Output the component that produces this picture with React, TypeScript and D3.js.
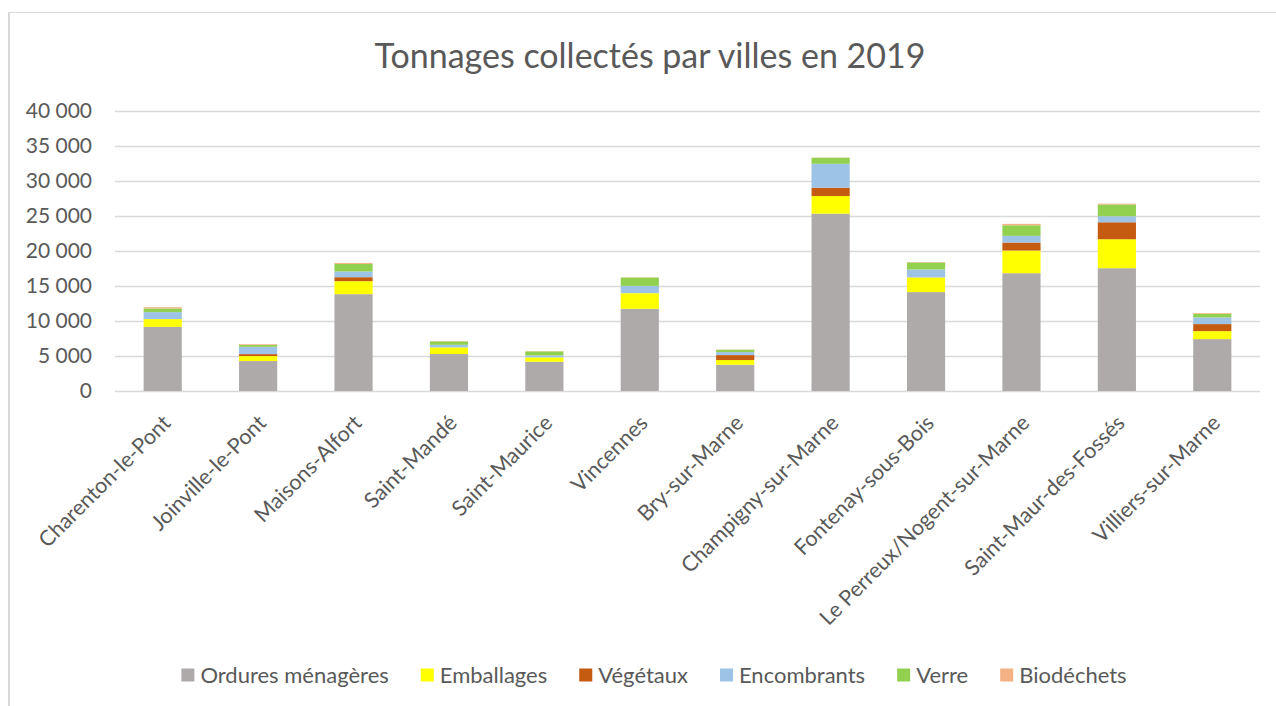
import * as d3 from "d3";
import React, { useEffect, useRef } from "react";

const cities = [
  "Charenton-le-Pont",
  "Joinville-le-Pont",
  "Maisons-Alfort",
  "Saint-Mandé",
  "Saint-Maurice",
  "Vincennes",
  "Bry-sur-Marne",
  "Champigny-sur-Marne",
  "Fontenay-sous-Bois",
  "Le Perreux/Nogent-sur-Marne",
  "Saint-Maur-des-Fossés",
  "Villiers-sur-Marne",
];

const ordures = [9150, 4270, 13810, 5270, 4170, 11720, 3740, 25290, 14100, 16800, 17510, 7400];
const emballages = [1100, 710, 1850, 950, 630, 2230, 670, 2510, 2100, 3230, 4130, 1140];
const vegetaux = [0, 280, 570, 0, 0, 0, 710, 1190, 0, 1140, 2420, 1000];
const encombrants = [1000, 1040, 810, 370, 280, 1040, 430, 3410, 1130, 950, 860, 950];
const verre = [520, 280, 1080, 480, 570, 1190, 330, 860, 1000, 1510, 1660, 530];
const biodechets = [180, 100, 140, 40, 30, 30, 30, 30, 60, 200, 140, 100];

const seriesNames = ["Ordures ménagères", "Emballages", "Végétaux", "Encombrants", "Verre", "Biodéchets"];
const seriesColors = ["#AEAAAA", "#FFFF00", "#C55A11", "#9DC3E6", "#92D050", "#F4B183"];
const yTicks = [0, 5000, 10000, 15000, 20000, 25000, 30000, 35000, 40000];

const title = "Tonnages collectés par villes en 2019";

const W = 1276;
const H = 706;
const FONT = "Lato, 'Open Sans', sans-serif";
const TEXT = "#595959";
const GRID = "#D9D9D9";

const App = () => {
  const svgRef = useRef(null);

  useEffect(() => {
    const svg = d3.select(svgRef.current);
    svg.selectAll("*").remove();

    const allSeries = [ordures, emballages, vegetaux, encombrants, verre, biodechets];
    const rows = cities.map((c, i) => {
      const r: any = { city: c };
      seriesNames.forEach((k, j) => (r[k] = allSeries[j][i]));
      return r;
    });
    const stacked = d3.stack().keys(seriesNames)(rows);

    const x = d3.scaleBand().domain(cities).range([115, 1260]).paddingInner(0.6).paddingOuter(0.3);
    const y = d3.scaleLinear().domain([0, 40000]).range([391, 110.5]);

    const fmt = d3.formatLocale({ decimal: ",", thousands: " ", grouping: [3], currency: ["", "€"] }).format(",d");

    svg.append("rect").attr("width", W).attr("height", H).attr("fill", "#fff");
    // chart frame
    svg.append("line").attr("x1", 9).attr("x2", W).attr("y1", 12.5).attr("y2", 12.5).attr("stroke", GRID);
    svg.append("line").attr("x1", 9).attr("x2", 9).attr("y1", 12).attr("y2", H).attr("stroke", GRID).attr("stroke-width", 2);

    // title
    svg
      .append("text")
      .attr("x", 650)
      .attr("y", 68)
      .attr("text-anchor", "middle")
      .style("font-family", FONT)
      .style("font-size", "34px")
      .style("fill", TEXT)
      .text(title);

    // grid + y labels
    const gy = svg.append("g");
    gy.selectAll("line")
      .data(yTicks)
      .join("line")
      .attr("x1", 115)
      .attr("x2", 1260)
      .attr("y1", (d) => Math.round(y(d)) + 0.5)
      .attr("y2", (d) => Math.round(y(d)) + 0.5)
      .attr("stroke", GRID)
      .attr("stroke-width", 1.5);
    gy.selectAll("text")
      .data(yTicks)
      .join("text")
      .attr("x", 92)
      .attr("y", (d) => y(d))
      .attr("dy", "0.35em")
      .attr("text-anchor", "end")
      .style("font-family", FONT)
      .style("font-size", "21px")
      .style("fill", TEXT)
      .text((d) => fmt(d));

    // bars
    svg
      .append("g")
      .selectAll("g")
      .data(stacked)
      .join("g")
      .attr("fill", (_d, i) => seriesColors[i])
      .selectAll("rect")
      .data((d) => d.map((v) => ({ v, city: v.data.city })))
      .join("rect")
      .attr("x", (d) => x(d.city) as number)
      .attr("width", x.bandwidth())
      .attr("y", (d) => y(d.v[1]))
      .attr("height", (d) => Math.max(0, y(d.v[0]) - y(d.v[1])));

    // x labels
    svg
      .append("g")
      .selectAll("text")
      .data(cities)
      .join("text")
      .attr("transform", (d) => `translate(${(x(d) as number) + x.bandwidth() / 2 + 4},419) rotate(-45)`)
      .attr("dy", "0.35em")
      .attr("text-anchor", "end")
      .style("font-family", FONT)
      .style("font-size", "21.5px")
      .style("fill", TEXT)
      .text((d) => d);

    // legend
    const lg = svg.append("g");
    const items = lg
      .selectAll("g")
      .data(seriesNames)
      .join("g");
    items
      .append("rect")
      .attr("width", 13)
      .attr("height", 13)
      .attr("y", -6.5)
      .attr("fill", (_d, i) => seriesColors[i]);
    items
      .append("text")
      .attr("x", 19)
      .attr("dy", "0.35em")
      .style("font-family", FONT)
      .style("font-size", "22px")
      .style("fill", TEXT)
      .text((d) => d);
    const widths: number[] = [];
    items.select("text").each(function () {
      widths.push((this as SVGTextElement).getComputedTextLength());
    });
    const gap = 32;
    let pos = 0;
    const offsets = widths.map((w) => {
      const o = pos;
      pos += 19 + w + gap;
      return o;
    });
    const total = pos - gap;
    const startX = 654 - total / 2;
    items.attr("transform", (_d, i) => `translate(${startX + offsets[i]},675)`);
  }, []);

  return (
    <svg
      ref={svgRef}
      width={W}
      height={H}
      style={{ position: "absolute", left: 0, top: 0, display: "block" }}
    ></svg>
  );
};

export default App;
